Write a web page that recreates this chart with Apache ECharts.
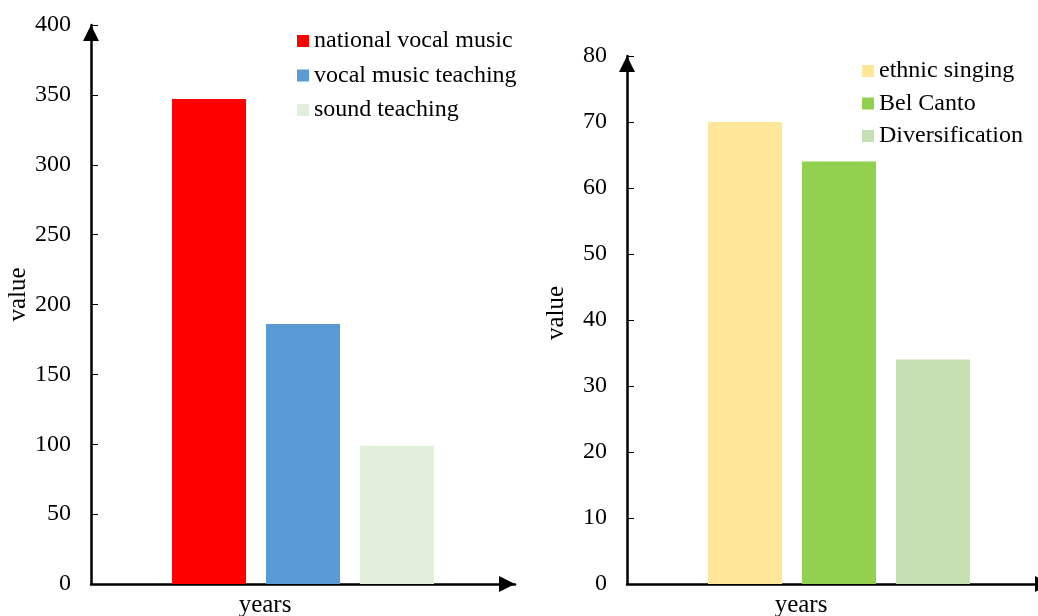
<!DOCTYPE html>
<html>
<head>
<meta charset="utf-8">
<script src="https://cdn.jsdelivr.net/npm/echarts@6/dist/echarts.min.js"></script>
<style>
  html, body { margin: 0; padding: 0; background: #fff; }
  #chart { width: 1038px; height: 616px; }
</style>
</head>
<body>
<div id="chart"></div>
<script>
// Left panel: teaching approaches
const leftNames = ['national vocal music', 'vocal music teaching', 'sound teaching'];
const leftValues = [347, 186, 99];
const leftColors = ['#FF0000', '#5B9BD5', '#E2EFDA'];

// Right panel: singing styles
const rightNames = ['ethnic singing', 'Bel Canto', 'Diversification'];
const rightValues = [70, 64, 34];
const rightColors = ['#FFE699', '#92D050', '#C6E0B4'];

const categories = [''];
const font = 'Liberation Serif, Times New Roman, serif';

function axisLine() {
  return {
    show: true,
    lineStyle: { color: '#000', width: 2.5 },
    symbol: ['none', 'triangle'],
    symbolSize: [16, 16],
    symbolOffset: [0, -8]
  };
}

function xAxis(gridIndex) {
  return {
    type: 'category',
    gridIndex,
    data: categories,
    axisLine: axisLine(),
    axisTick: { show: false },
    axisLabel: { show: false },
    splitLine: { show: false },
    name: 'years',
    nameLocation: 'middle',
    nameGap: 9,
    nameTextStyle: { fontFamily: font, fontSize: 25, color: '#000', padding: [0, 76, 0, 0] }
  };
}

function yAxis(gridIndex, max, interval, shift) {
  return {
    type: 'value',
    gridIndex,
    min: 0,
    max,
    interval,
    axisLine: axisLine(),
    axisTick: { show: true, inside: true, length: 7, lineStyle: { color: '#000', width: 1 } },
    axisLabel: { fontFamily: font, fontSize: 24, color: '#000', margin: 20 },
    splitLine: { show: false },
    name: 'value',
    nameLocation: 'middle',
    nameGap: 58,
    nameTextStyle: { fontFamily: font, fontSize: 25, color: '#000', padding: [0, 0, 0, shift] }
  };
}

function barSeries(names, values, colors, axisIndex) {
  return names.map((n, i) => ({
    name: n,
    type: 'bar',
    xAxisIndex: axisIndex,
    yAxisIndex: axisIndex,
    data: [values[i]],
    barWidth: 74,
    barGap: '27%',
    itemStyle: { color: colors[i] }
  }));
}

function legend(names, left, top, gap) {
  return {
    data: names.map(n => ({ name: n, icon: 'rect' })),
    orient: 'vertical',
    left,
    top,
    padding: 0,
    itemWidth: 12,
    itemHeight: 12,
    itemGap: gap,
    textStyle: { fontFamily: font, fontSize: 24, color: '#000', lineHeight: 24 }
  };
}

const chart = echarts.init(document.getElementById('chart'));
chart.setOption({
  backgroundColor: '#fff',
  animation: false,
  grid: [
    { left: 91, top: 25, width: 424, height: 559, outerBoundsMode: 'none', containLabel: false },
    { left: 627, top: 56, width: 424, height: 528, outerBoundsMode: 'none', containLabel: false }
  ],
  xAxis: [xAxis(0), xAxis(1)],
  yAxis: [yAxis(0, 400, 50, 20), yAxis(1, 80, 10, 14)],
  legend: [
    legend(leftNames, 297, 29, 10.5),
    legend(rightNames, 862, 59, 8.5)
  ],
  series: [
    ...barSeries(leftNames, leftValues, leftColors, 0),
    ...barSeries(rightNames, rightValues, rightColors, 1)
  ]
});
</script>
</body>
</html>
